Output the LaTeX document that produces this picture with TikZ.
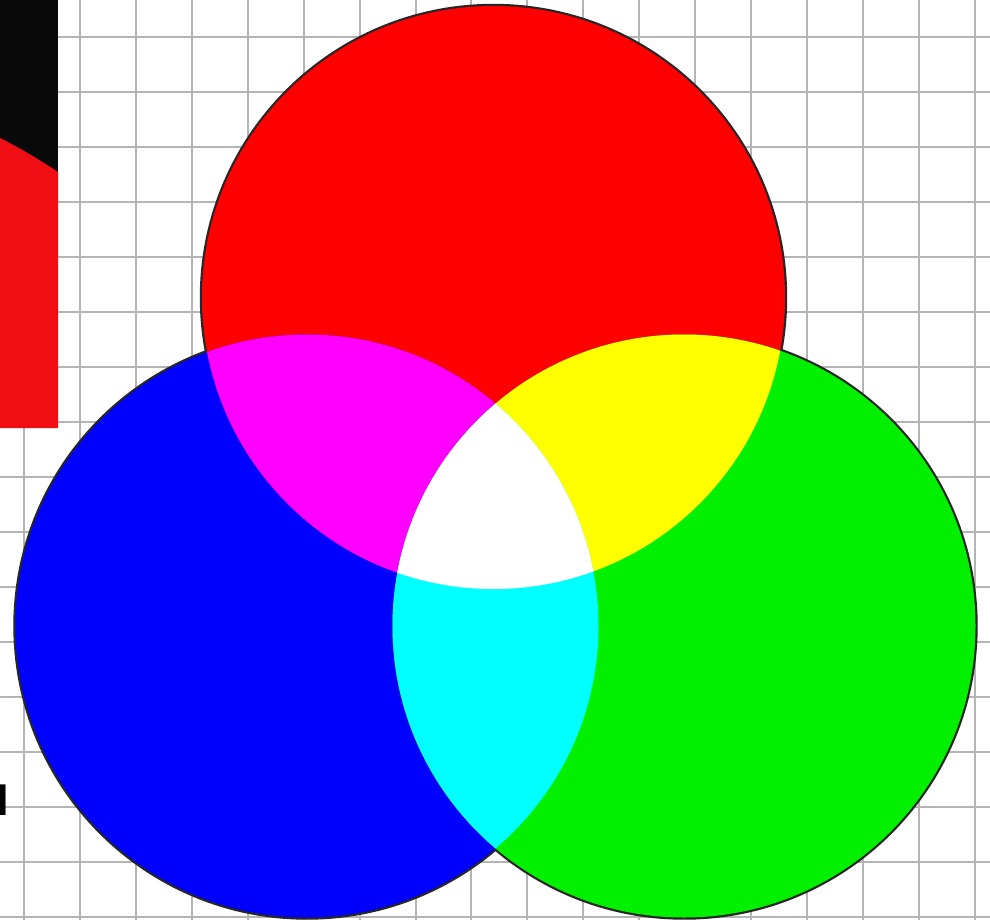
\documentclass[tikz,border=0pt]{standalone}
\usepackage{fontspec}
\newfontfamily\cyrfont{DejaVu Sans}
\definecolor{gridgray}{RGB}{180,180,180}
\definecolor{cred}{RGB}{255,0,0}
\definecolor{cblue}{RGB}{0,0,255}
\definecolor{cgreen}{RGB}{0,240,0}
\definecolor{cmag}{RGB}{255,0,255}
\definecolor{cyel}{RGB}{255,255,0}
\definecolor{ccyan}{RGB}{0,255,255}
\definecolor{imgblack}{RGB}{10,10,10}
\definecolor{imgred}{RGB}{240,14,20}
\tikzset{
  gridline/.style={draw=gridgray, line width=2pt},
  outline/.style={draw=black!85, line width=4.4pt},
}
\begin{document}
\begin{tikzpicture}[x=1pt,y=-1pt]
\useasboundingbox (0,0) rectangle (990,920);
\fill[white] (0,0) rectangle (990,920);
% grid
\foreach \k in {0,...,17} {
  \draw[gridline] ({24.2+55.9*\k},0) -- ({24.2+55.9*\k},920);
}
\foreach \k in {0,...,16} {
  \draw[gridline] (0,{37+55*\k}) -- (990,{37+55*\k});
}
% cropped picture at top left
\fill[imgblack] (0,0) rectangle (58,428);
\fill[imgred] (0,138) .. controls (20,148) and (40,160) .. (58,172) -- (58,428) -- (0,428) -- cycle;
% partial letter
\node[anchor=base east, inner sep=0pt, font=\cyrfont\bfseries\fontsize{56}{60}\selectfont] (letter) at (11,815) {й};
% circle centres
\coordinate (R) at (493.5,297.5);
\coordinate (B) at (307,626);
\coordinate (G) at (684,626);
\def\rad{291.5}
% outline (outer half only remains)
\draw[outline] (R) circle[radius=\rad];
\draw[outline] (B) circle[radius=\rad];
\draw[outline] (G) circle[radius=\rad];
% fills
\fill[cred] (R) circle[radius=\rad];
\fill[cblue] (B) circle[radius=\rad];
\fill[cgreen] (G) circle[radius=\rad];
\begin{scope}
  \clip (R) circle[radius=\rad];
  \fill[cmag] (B) circle[radius=\rad];
  \fill[cyel] (G) circle[radius=\rad];
\end{scope}
\begin{scope}
  \clip (B) circle[radius=\rad];
  \fill[ccyan] (G) circle[radius=\rad];
  \clip (G) circle[radius=\rad];
  \fill[white] (R) circle[radius=\rad];
\end{scope}
\end{tikzpicture}
\end{document}
